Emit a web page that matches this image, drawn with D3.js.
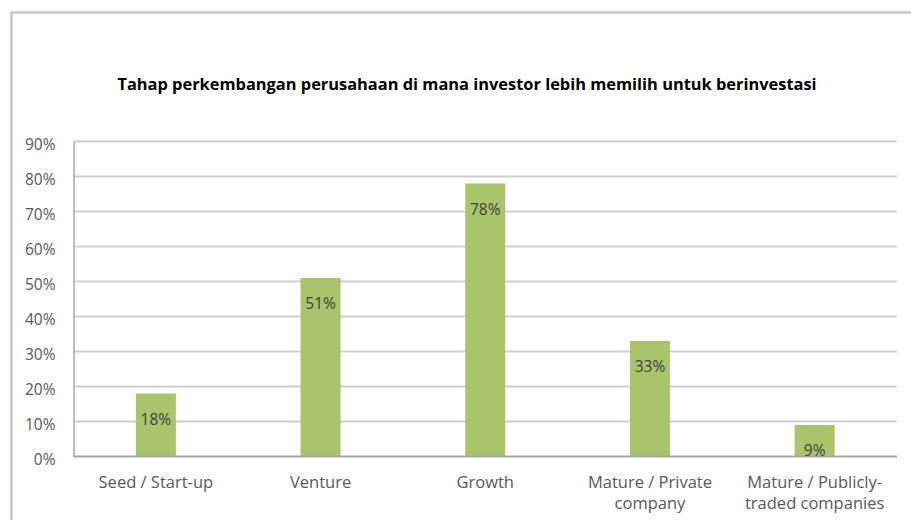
<!DOCTYPE html>
<html><head><meta charset="utf-8">
<script src="https://cdn.jsdelivr.net/npm/d3@7"></script>
<style>html,body{margin:0;padding:0;background:#fff;}svg{display:block;}</style>
</head><body>
<svg id="chart" width="911" height="520"></svg>
<script>
const title = "Tahap perkembangan perusahaan di mana investor lebih memilih untuk berinvestasi";
const categories = [
  ["Seed / Start-up"],
  ["Venture"],
  ["Growth"],
  ["Mature / Private", "company"],
  ["Mature / Publicly-", "traded companies"]
];
const values = [18, 51, 78, 33, 9];
const yTicks = [0, 10, 20, 30, 40, 50, 60, 70, 80, 90];

const svg = d3.select("#chart");
const font = "'Open Sans', sans-serif";
const m = {left: 73.5, right: 897, top: 141.5, bottom: 456.5};

// outer frame
svg.append("path")
  .attr("d", "M11.5,530 V12.5 H930")
  .attr("fill", "none").attr("stroke", "#c8c8c8").attr("stroke-width", 2.5);

svg.append("text")
  .attr("x", 467).attr("y", 90)
  .attr("text-anchor", "middle")
  .attr("font-family", font).attr("font-weight", "bold").attr("font-size", 16.4)
  .attr("fill", "#000")
  .text(title);

const x = d3.scaleBand().domain(d3.range(categories.length)).range([m.left, m.right]).padding(0);
const y = d3.scaleLinear().domain([0, 90]).range([m.bottom, m.top]);

// gridlines
svg.append("g").selectAll("line").data(yTicks.filter(d => d > 0)).join("line")
  .attr("x1", m.left).attr("x2", m.right)
  .attr("y1", d => y(d)).attr("y2", d => y(d))
  .attr("stroke", "#d0d0d0").attr("stroke-width", 2);

// y axis
const yAxis = d3.axisLeft(y).tickValues(yTicks).tickFormat(d => d + "%").tickSize(0).tickPadding(18);
const gy = svg.append("g").attr("transform", `translate(${m.left},0)`).call(yAxis);
gy.select(".domain").attr("stroke", "#a6a6a6").attr("stroke-width", 1.5);
gy.selectAll("text").attr("font-family", font).attr("font-size", 15.5).attr("fill", "#595959").attr("dy", "0.52em");

// bars
const bw = 40;
svg.append("g").selectAll("rect").data(values).join("rect")
  .attr("x", (d, i) => x(i) + x.bandwidth() / 2 - bw / 2)
  .attr("width", bw)
  .attr("y", d => y(d))
  .attr("height", d => y(0) - y(d))
  .attr("fill", "#a9c46a");

// x axis line
svg.append("line").attr("x1", m.left).attr("x2", m.right)
  .attr("y1", y(0)).attr("y2", y(0))
  .attr("stroke", "#a6a6a6").attr("stroke-width", 2);

// data labels
svg.append("g").selectAll("text").data(values).join("text")
  .attr("x", (d, i) => x(i) + x.bandwidth() / 2)
  .attr("y", d => y(d) + 31)
  .attr("text-anchor", "middle")
  .attr("font-family", font).attr("font-size", 15.5).attr("fill", "#404040")
  .text(d => d + "%");

// category labels
const cl = svg.append("g").selectAll("text").data(categories).join("text")
  .attr("text-anchor", "middle")
  .attr("font-family", font).attr("font-size", 16.5).attr("fill", "#595959");
cl.selectAll("tspan").data((d, i) => d.map(s => ({s, i}))).join("tspan")
  .attr("x", d => x(d.i) + x.bandwidth() / 2)
  .attr("y", (d, j) => 488 + j * 21)
  .text(d => d.s);
</script>
</body></html>
